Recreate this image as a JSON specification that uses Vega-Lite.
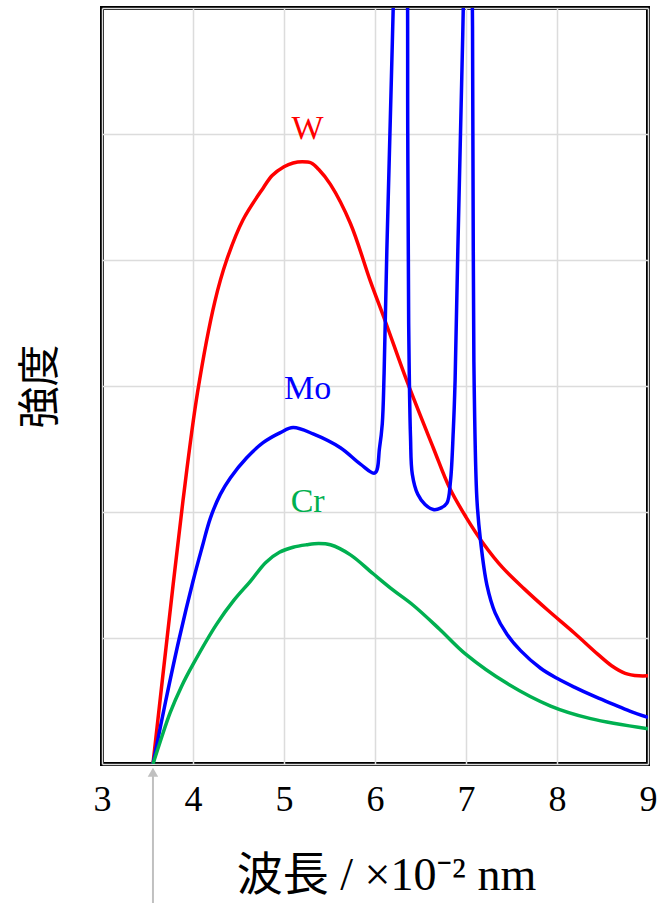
{
  "$schema": "https://vega.github.io/schema/vega-lite/v6.json",
  "width": 546,
  "height": 756,
  "autosize": {"type": "none"},
  "padding": {"left": 102, "top": 8, "right": 10, "bottom": 139},
  "background": "white",
  "config": {
    "view": {"stroke": "black", "strokeWidth": 4},
    "font": "Liberation Serif",
    "axis": {
      "grid": true,
      "gridColor": "#dcdcdc",
      "gridWidth": 1.5,
      "domain": false,
      "ticks": false,
      "labelFont": "Liberation Serif",
      "labelColor": "black",
      "titleFont": "Liberation Serif, Noto Sans, Noto Sans CJK JP",
      "titleFontWeight": "normal",
      "titleColor": "black"
    }
  },
  "datasets": {
    "spectra": [
      {"series": "W", "wavelength": 3.56, "intensity": 0},
      {"series": "W", "wavelength": 3.72, "intensity": 1.03},
      {"series": "W", "wavelength": 3.89, "intensity": 2.09},
      {"series": "W", "wavelength": 4.05, "intensity": 2.95},
      {"series": "W", "wavelength": 4.24, "intensity": 3.67},
      {"series": "W", "wavelength": 4.37, "intensity": 4.0},
      {"series": "W", "wavelength": 4.55, "intensity": 4.32},
      {"series": "W", "wavelength": 4.77, "intensity": 4.57},
      {"series": "W", "wavelength": 4.87, "intensity": 4.67},
      {"series": "W", "wavelength": 5.0, "intensity": 4.74},
      {"series": "W", "wavelength": 5.1, "intensity": 4.77},
      {"series": "W", "wavelength": 5.2, "intensity": 4.78},
      {"series": "W", "wavelength": 5.3, "intensity": 4.77},
      {"series": "W", "wavelength": 5.38, "intensity": 4.72},
      {"series": "W", "wavelength": 5.51, "intensity": 4.6},
      {"series": "W", "wavelength": 5.73, "intensity": 4.29},
      {"series": "W", "wavelength": 5.95, "intensity": 3.83},
      {"series": "W", "wavelength": 6.11, "intensity": 3.52},
      {"series": "W", "wavelength": 6.35, "intensity": 3.04},
      {"series": "W", "wavelength": 6.64, "intensity": 2.51},
      {"series": "W", "wavelength": 6.82, "intensity": 2.19},
      {"series": "W", "wavelength": 7.0, "intensity": 1.96},
      {"series": "W", "wavelength": 7.2, "intensity": 1.74},
      {"series": "W", "wavelength": 7.4, "intensity": 1.56},
      {"series": "W", "wavelength": 7.64, "intensity": 1.39},
      {"series": "W", "wavelength": 7.9, "intensity": 1.22},
      {"series": "W", "wavelength": 8.19, "intensity": 1.04},
      {"series": "W", "wavelength": 8.45, "intensity": 0.87},
      {"series": "W", "wavelength": 8.6, "intensity": 0.78},
      {"series": "W", "wavelength": 8.75, "intensity": 0.72},
      {"series": "W", "wavelength": 8.9, "intensity": 0.7},
      {"series": "W", "wavelength": 9.0, "intensity": 0.7},

      {"series": "Mo", "wavelength": 3.56, "intensity": 0},
      {"series": "Mo", "wavelength": 3.7, "intensity": 0.5},
      {"series": "Mo", "wavelength": 3.85, "intensity": 1.0},
      {"series": "Mo", "wavelength": 4.0, "intensity": 1.45},
      {"series": "Mo", "wavelength": 4.1, "intensity": 1.72},
      {"series": "Mo", "wavelength": 4.19, "intensity": 1.95},
      {"series": "Mo", "wavelength": 4.3, "intensity": 2.14},
      {"series": "Mo", "wavelength": 4.41, "intensity": 2.27},
      {"series": "Mo", "wavelength": 4.59, "intensity": 2.43},
      {"series": "Mo", "wavelength": 4.77, "intensity": 2.55},
      {"series": "Mo", "wavelength": 4.96, "intensity": 2.63},
      {"series": "Mo", "wavelength": 5.1, "intensity": 2.67},
      {"series": "Mo", "wavelength": 5.32, "intensity": 2.62},
      {"series": "Mo", "wavelength": 5.62, "intensity": 2.51},
      {"series": "Mo", "wavelength": 5.84, "intensity": 2.38},
      {"series": "Mo", "wavelength": 6.0, "intensity": 2.31},
      {"series": "Mo", "wavelength": 6.05, "intensity": 2.51},
      {"series": "Mo", "wavelength": 6.08, "intensity": 2.7},
      {"series": "Mo", "wavelength": 6.1, "intensity": 3.1},
      {"series": "Mo", "wavelength": 6.13, "intensity": 4.07},
      {"series": "Mo", "wavelength": 6.2, "intensity": 6.0},
      {"series": "Mo", "wavelength": 6.28, "intensity": 8.5},
      {"series": "Mo", "wavelength": 6.35, "intensity": 6.8},
      {"series": "Mo", "wavelength": 6.36, "intensity": 5.0},
      {"series": "Mo", "wavelength": 6.37, "intensity": 3.5},
      {"series": "Mo", "wavelength": 6.39, "intensity": 2.6},
      {"series": "Mo", "wavelength": 6.41, "intensity": 2.3},
      {"series": "Mo", "wavelength": 6.47, "intensity": 2.14},
      {"series": "Mo", "wavelength": 6.55, "intensity": 2.06},
      {"series": "Mo", "wavelength": 6.64, "intensity": 2.02},
      {"series": "Mo", "wavelength": 6.72, "intensity": 2.03},
      {"series": "Mo", "wavelength": 6.79, "intensity": 2.07},
      {"series": "Mo", "wavelength": 6.83, "intensity": 2.25},
      {"series": "Mo", "wavelength": 6.86, "intensity": 2.64},
      {"series": "Mo", "wavelength": 6.88, "intensity": 3.04},
      {"series": "Mo", "wavelength": 6.91, "intensity": 4.07},
      {"series": "Mo", "wavelength": 6.97, "intensity": 6.0},
      {"series": "Mo", "wavelength": 7.02, "intensity": 8.5},
      {"series": "Mo", "wavelength": 7.07, "intensity": 6.0},
      {"series": "Mo", "wavelength": 7.08, "intensity": 4.07},
      {"series": "Mo", "wavelength": 7.09, "intensity": 3.0},
      {"series": "Mo", "wavelength": 7.12, "intensity": 2.1},
      {"series": "Mo", "wavelength": 7.16, "intensity": 1.77},
      {"series": "Mo", "wavelength": 7.23, "intensity": 1.42},
      {"series": "Mo", "wavelength": 7.32, "intensity": 1.2},
      {"series": "Mo", "wavelength": 7.45, "intensity": 1.03},
      {"series": "Mo", "wavelength": 7.6, "intensity": 0.9},
      {"series": "Mo", "wavelength": 7.82, "intensity": 0.76},
      {"series": "Mo", "wavelength": 8.0, "intensity": 0.68},
      {"series": "Mo", "wavelength": 8.19, "intensity": 0.61},
      {"series": "Mo", "wavelength": 8.4, "intensity": 0.54},
      {"series": "Mo", "wavelength": 8.6, "intensity": 0.48},
      {"series": "Mo", "wavelength": 8.8, "intensity": 0.42},
      {"series": "Mo", "wavelength": 9.0, "intensity": 0.37},

      {"series": "Cr", "wavelength": 3.56, "intensity": 0},
      {"series": "Cr", "wavelength": 3.65, "intensity": 0.2},
      {"series": "Cr", "wavelength": 3.75, "intensity": 0.41},
      {"series": "Cr", "wavelength": 3.87, "intensity": 0.61},
      {"series": "Cr", "wavelength": 4.0, "intensity": 0.79},
      {"series": "Cr", "wavelength": 4.26, "intensity": 1.11},
      {"series": "Cr", "wavelength": 4.45, "intensity": 1.3},
      {"series": "Cr", "wavelength": 4.63, "intensity": 1.45},
      {"series": "Cr", "wavelength": 4.8, "intensity": 1.6},
      {"series": "Cr", "wavelength": 4.95, "intensity": 1.68},
      {"series": "Cr", "wavelength": 5.1, "intensity": 1.72},
      {"series": "Cr", "wavelength": 5.25, "intensity": 1.74},
      {"series": "Cr", "wavelength": 5.38, "intensity": 1.75},
      {"series": "Cr", "wavelength": 5.51, "intensity": 1.74},
      {"series": "Cr", "wavelength": 5.73, "intensity": 1.66},
      {"series": "Cr", "wavelength": 5.98, "intensity": 1.51},
      {"series": "Cr", "wavelength": 6.2, "intensity": 1.38},
      {"series": "Cr", "wavelength": 6.42, "intensity": 1.26},
      {"series": "Cr", "wavelength": 6.71, "intensity": 1.07},
      {"series": "Cr", "wavelength": 7.0, "intensity": 0.87},
      {"series": "Cr", "wavelength": 7.45, "intensity": 0.64},
      {"series": "Cr", "wavelength": 7.93, "intensity": 0.46},
      {"series": "Cr", "wavelength": 8.37, "intensity": 0.36},
      {"series": "Cr", "wavelength": 9.0, "intensity": 0.28}
    ],
    "labels": [
      {"series": "W", "wavelength": 5.26, "intensity": 5.04},
      {"series": "Mo", "wavelength": 5.26, "intensity": 2.98},
      {"series": "Cr", "wavelength": 5.26, "intensity": 2.08}
    ],
    "cutoff": [
      {"wavelength": 3.56}
    ]
  },
  "layer": [
    {
      "data": {"name": "spectra"},
      "mark": {"type": "line", "clip": true, "strokeWidth": 3.5, "interpolate": "catmull-rom"},
      "encoding": {
        "x": {
          "field": "wavelength",
          "type": "quantitative",
          "scale": {"domain": [3, 9], "nice": false},
          "axis": {
            "values": [3, 4, 5, 6, 7, 8, 9],
            "format": "d",
            "labelFontSize": 36,
            "labelPadding": 18,
            "labelFlush": false,
            "labelOverlap": false,
            "title": "波長 / ×10⁻² nm",
            "titleFontSize": 46,
            "titlePadding": 36,
            "titleX": 284
          }
        },
        "y": {
          "field": "intensity",
          "type": "quantitative",
          "scale": {"domain": [0, 6], "nice": false},
          "axis": {
            "values": [0, 1, 2, 3, 4, 5, 6],
            "labels": false,
            "title": "強度",
            "titleFontSize": 42,
            "titlePadding": 40
          }
        },
        "color": {
          "field": "series",
          "type": "nominal",
          "scale": {"domain": ["W", "Mo", "Cr"], "range": ["#ff0000", "#0000ff", "#00b050"]},
          "legend": null
        },
        "detail": {"field": "series"}
      }
    },
    {
      "data": {"name": "labels"},
      "mark": {"type": "text", "font": "Liberation Serif", "fontSize": 34, "baseline": "middle", "align": "center"},
      "encoding": {
        "x": {"field": "wavelength", "type": "quantitative"},
        "y": {"field": "intensity", "type": "quantitative"},
        "text": {"field": "series"},
        "color": {"field": "series", "type": "nominal", "legend": null}
      }
    },
    {
      "data": {"name": "cutoff"},
      "mark": {"type": "rule", "color": "#c0c0c0", "strokeWidth": 2},
      "encoding": {
        "x": {"field": "wavelength", "type": "quantitative"},
        "y": {"datum": -0.05},
        "y2": {"datum": -1.15}
      }
    },
    {
      "data": {"name": "cutoff"},
      "mark": {"type": "point", "shape": "triangle-up", "filled": true, "color": "#c0c0c0", "size": 110, "opacity": 1},
      "encoding": {
        "x": {"field": "wavelength", "type": "quantitative"},
        "y": {"datum": -0.065}
      }
    }
  ]
}
